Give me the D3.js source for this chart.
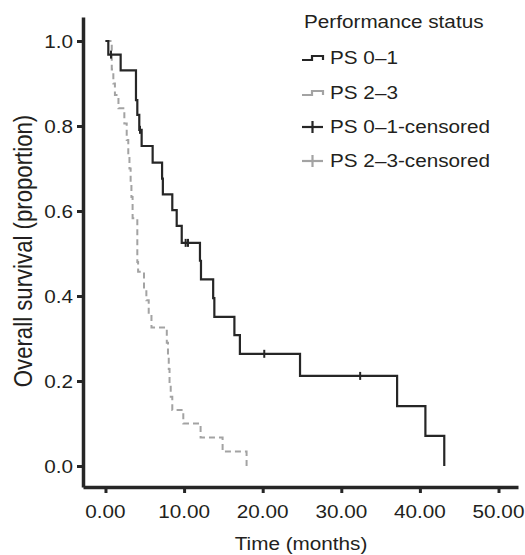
<!DOCTYPE html>
<html><head><meta charset="utf-8">
<script src="https://cdn.jsdelivr.net/npm/d3@7"></script>
<style>html,body{margin:0;padding:0;background:#fff;}svg{display:block;}</style>
</head><body>
<svg id="chart" width="525" height="555"></svg>
<script>
// ---- data ----
const xTicks = [0, 10, 20, 30, 40, 50];
const yTicks = [0, 0.2, 0.4, 0.6, 0.8, 1.0];
const ps01Times = [0, 0.36, 1.93, 3.88, 4.05, 4.3, 4.6, 6.0, 7.2, 7.3, 8.5, 9.06, 9.7, 12.02, 12.15, 13.7, 13.85, 16.4, 17.1, 24.75, 37.1, 40.7, 43.1];
const ps01Surv  = [1, 0.968, 0.931, 0.861, 0.826, 0.791, 0.753, 0.714, 0.676, 0.639, 0.602, 0.565, 0.525, 0.483, 0.439, 0.395, 0.351, 0.308, 0.264, 0.212, 0.141, 0.071, 0];
const ps01CensorTimes = [0.7, 4.39, 10.2, 10.5, 20.2, 32.4];
const ps23Times = [0, 0.8, 1.0, 1.2, 1.65, 2.4, 2.7, 2.9, 3.05, 3.2, 3.3, 3.45, 4.05, 4.15, 4.9, 5.2, 5.5, 5.85, 7.8, 7.95, 8.05, 8.15, 8.3, 8.5, 9.9, 12.1, 14.9, 17.95];
const ps23Surv  = [1, 0.933, 0.9, 0.873, 0.842, 0.806, 0.767, 0.733, 0.7, 0.667, 0.633, 0.583, 0.48, 0.457, 0.42, 0.39, 0.357, 0.326, 0.29, 0.26, 0.228, 0.195, 0.163, 0.132, 0.1, 0.067, 0.034, 0];
const ps23CensorTimes = [];
const legendTitle = "Performance status";
const legendLabels = ["PS 0\u20131", "PS 2\u20133", "PS 0\u20131-censored", "PS 2\u20133-censored"];
const xTitle = "Time (months)";
const yTitle = "Overall survival (proportion)";

// ---- style ----
const dark = "#262626", grey = "#a3a3a3", textCol = "#231f20";
const FS = 18.5, SX = 1.12, YFS = 22.2;
const font = "'Liberation Sans', Arial, Helvetica, sans-serif";

const svg = d3.select("#chart");
const x = d3.scaleLinear().domain([-2.86, 52.48]).range([83, 518]);
const y = d3.scaleLinear().domain([-0.0494, 1.0565]).range([487, 17]);

function txt(g, str, tx, ty, anchor, extra) {
  return g.append("text").attr("transform", `translate(${tx},${ty}) ${extra || ""} scale(${SX},1)`)
    .attr("text-anchor", anchor).attr("font-family", font).attr("font-size", FS)
    .attr("fill", textCol).text(str);
}

// axes
const yAxis = svg.append("g").attr("transform", "translate(83,0)")
  .call(d3.axisLeft(y).tickValues(yTicks).tickSizeOuter(0).tickSizeInner(6).tickFormat(""));
const xAxis = svg.append("g").attr("transform", "translate(0,487)")
  .call(d3.axisBottom(x).tickValues(xTicks).tickSizeOuter(0).tickSizeInner(6).tickFormat(""));
[yAxis, xAxis].forEach(a => {
  a.select(".domain").attr("stroke", dark).attr("stroke-width", 3.5);
  a.selectAll(".tick line").attr("stroke", dark).attr("stroke-width", 3);
});
yTicks.forEach(v => txt(svg, d3.format(".1f")(v), 73, y(v) + 6.5, "end"));
xTicks.forEach(v => txt(svg, d3.format(".2f")(v), x(v), 518, "middle"));
txt(svg, xTitle, 301, 550, "middle");
svg.append("text").attr("transform", `translate(32,251) rotate(-90) scale(1,${SX})`)
  .attr("text-anchor", "middle").attr("font-family", font).attr("font-size", YFS)
  .attr("fill", textCol).text(yTitle);

// curves
const line = d3.line().x(d => x(d[0])).y(d => y(d[1])).curve(d3.curveStepAfter);
const ps01 = ps01Times.map((t, i) => [t, ps01Surv[i]]);
const ps23 = ps23Times.map((t, i) => [t, ps23Surv[i]]);
svg.append("path").attr("d", line(ps23)).attr("fill", "none").attr("stroke", grey)
  .attr("stroke-width", 2).attr("stroke-dasharray", "6,4");
svg.append("path").attr("d", line(ps01)).attr("fill", "none").attr("stroke", dark)
  .attr("stroke-width", 2.2);

function survAt(times, surv, t) {
  let s = surv[0];
  for (let i = 0; i < times.length; i++) if (times[i] <= t) s = surv[i];
  return s;
}
svg.selectAll(".c01").data(ps01CensorTimes).join("line")
  .attr("x1", d => x(d)).attr("x2", d => x(d))
  .attr("y1", d => y(survAt(ps01Times, ps01Surv, d)) - 4)
  .attr("y2", d => y(survAt(ps01Times, ps01Surv, d)) + 4)
  .attr("stroke", dark).attr("stroke-width", 2);
svg.selectAll(".c23").data(ps23CensorTimes).join("line")
  .attr("x1", d => x(d)).attr("x2", d => x(d))
  .attr("y1", d => y(survAt(ps23Times, ps23Surv, d)) - 4)
  .attr("y2", d => y(survAt(ps23Times, ps23Surv, d)) + 4)
  .attr("stroke", grey).attr("stroke-width", 2);

// legend
const lg = svg.append("g");
txt(lg, legendTitle, 304, 28, "start");
const rowY = [64, 99, 133, 167];
const rowCol = [dark, grey, dark, grey];
legendLabels.forEach((lab, i) => {
  const by = rowY[i] - 6;
  if (i < 2) {
    lg.append("path").attr("d", `M302,${by + 2}H312V${by - 2}H323V${by + 2}`)
      .attr("fill", "none").attr("stroke", rowCol[i]).attr("stroke-width", 2.2);
  } else {
    lg.append("line").attr("x1", 302).attr("x2", 323).attr("y1", by).attr("y2", by)
      .attr("stroke", rowCol[i]).attr("stroke-width", 2.2);
    lg.append("line").attr("x1", 312.5).attr("x2", 312.5).attr("y1", by - 6).attr("y2", by + 6)
      .attr("stroke", rowCol[i]).attr("stroke-width", 2.2);
  }
  txt(lg, lab, 330, rowY[i], "start");
});
</script>
</body></html>
